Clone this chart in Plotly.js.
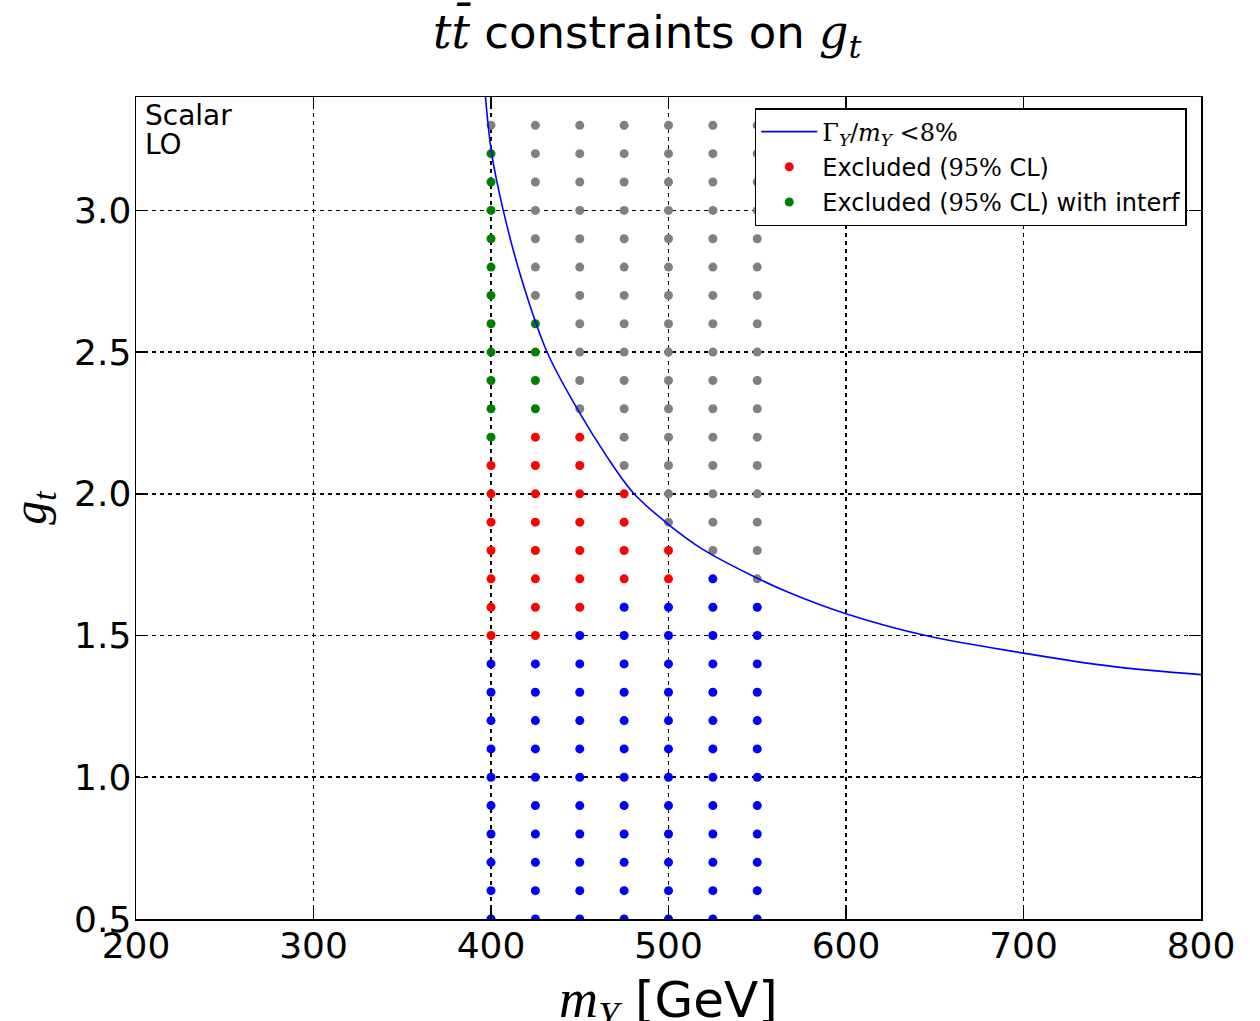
<!DOCTYPE html>
<html>
<head>
<meta charset="utf-8">
<script src="https://cdn.plot.ly/plotly-3.0.1.min.js"></script>
<style>html,body{margin:0;padding:0;background:#fff;}</style>
</head>
<body>
<div id="chart" style="width:1260px;height:1021px;"></div>
<script>
// ---- data ----
const masses = [400, 425, 450, 475, 500, 525, 550];
const couplings = [0.5, 0.6, 0.7, 0.8, 0.9, 1.0, 1.1, 1.2, 1.3, 1.4, 1.5, 1.6, 1.7, 1.8, 1.9,
                   2.0, 2.1, 2.2, 2.3, 2.4, 2.5, 2.6, 2.7, 2.8, 2.9, 3.0, 3.1, 3.2, 3.3];
// status per mass column, one letter per coupling (B allowed, R excluded, G excluded with interf, X width too large)
const status400 = "BBBBBBBBBBRRRRRRRGGGGGGGGGGGX";
const status425 = "BBBBBBBBBBRRRRRRRRGGGGXXXXXXX";
const status450 = "BBBBBBBBBBBRRRRRRRXXXXXXXXXXX";
const status475 = "BBBBBBBBBBBBRRRRXXXXXXXXXXXXX";
const status500 = "BBBBBBBBBBBBRRXXXXXXXXXXXXXXX";
const status525 = "BBBBBBBBBBBBBXXXXXXXXXXXXXXXX";
const status550 = "BBBBBBBBBBBBXXXXXXXXXXXXXXXXX";
const statusColumns = [status400, status425, status450, status475, status500, status525, status550];

// width curve Gamma_Y/m_Y = 8%
const widthMass = [396.9, 400.4, 406.9, 417.3, 431.4, 448.3, 465.2, 480.2, 499.0, 519.6, 547.8, 568.5, 600.4, 645.5, 700.0, 748.7, 800.0];
const widthCoupling = [3.40, 3.20, 3.00, 2.756, 2.503, 2.303, 2.132, 2.003, 1.897, 1.803, 1.709, 1.650, 1.576, 1.499, 1.438, 1.392, 1.362];

const xTicks = [200, 300, 400, 500, 600, 700, 800];
const yTicks = [0.5, 1.0, 1.5, 2.0, 2.5, 3.0];
const yTickText = ["0.5", "1.0", "1.5", "2.0", "2.5", "3.0"];

// ---- build point sets ----
function collect(code) {
  const xs = [], ys = [];
  statusColumns.forEach((col, i) => {
    for (let j = 0; j < col.length; j++) {
      if (col[j] === code) { xs.push(masses[i]); ys.push(couplings[j]); }
    }
  });
  return {x: xs, y: ys};
}
const gray = collect("X"), blue = collect("B"), red = collect("R"), green = collect("G");

const SANS = "DejaVu Sans";
const math = (s, fam, size) => '<span style="font-family:' + fam + (size ? ';font-size:' + size + 'px' : '') + '">' + s + '</span>';

const dotSize = 9;
const traces = [
  {x: gray.x, y: gray.y, type: "scatter", mode: "markers", marker: {color: "#808080", size: dotSize}, showlegend: false, hoverinfo: "skip"},
  {x: blue.x, y: blue.y, type: "scatter", mode: "markers", marker: {color: "#0000ff", size: dotSize}, showlegend: false, hoverinfo: "skip"},
  {x: red.x, y: red.y, type: "scatter", mode: "markers", marker: {color: "#ff0000", size: dotSize},
   name: "Excluded (" + math("95%", "DejaVu Serif") + " CL)", legendrank: 2, legendgroup: "r"},
  {x: green.x, y: green.y, type: "scatter", mode: "markers", marker: {color: "#008000", size: dotSize},
   name: "Excluded (" + math("95%", "DejaVu Serif") + " CL) with interf", legendrank: 3, legendgroup: "g"},
  {x: widthMass, y: widthCoupling, type: "scatter", mode: "lines", line: {color: "#0000ff", width: 1.6, shape: "spline"},
   name: math("Γ<sub><i>Y</i></sub>/<i>m</i><sub><i>Y</i></sub> &lt;8%", "DejaVu Serif"), legendrank: 1, legendgroup: "l"}
];

const axisCommon = {
  showline: true, linecolor: "black", linewidth: 1.5, mirror: "ticks",
  ticks: "inside", ticklen: 12, tickwidth: 1.5, tickcolor: "black",
  showgrid: true, gridcolor: "black", gridwidth: 1.6, griddash: "4px,4px",
  zeroline: false, tickfont: {family: SANS, size: 36, color: "black"},
  automargin: false
};

const layout = {
  width: 1260, height: 1021,
  margin: {l: 136, r: 59, t: 97, b: 102},
  paper_bgcolor: "white", plot_bgcolor: "white",
  font: {family: SANS, color: "black"},
  title: {
    text: math("<i>tt̄</i>", "DejaVu Serif", 46) + " constraints on " + math("<i>g</i><sub><i>t</i></sub>", "DejaVu Serif", 46),
    font: {family: SANS, size: 45, color: "black"},
    x: 0.48, xref: "paper", xanchor: "center",
    y: 0.968, yref: "container", yanchor: "middle"
  },
  xaxis: Object.assign({}, axisCommon, {
    range: [200, 800], tickvals: xTicks, ticktext: xTicks.map(String),
    ticklabelstandoff: -6
  }),
  yaxis: Object.assign({}, axisCommon, {
    range: [0.5, 3.4], tickvals: yTicks, ticktext: yTickText,
    ticklabelstandoff: -4,
    title: {text: math("<i>g</i><sub><i>t</i></sub>", "Liberation Serif"), font: {family: SANS, size: 48, color: "black"}, standoff: 12}
  }),
  legend: {
    x: 0.581, y: 0.9866, xanchor: "left", yanchor: "top",
    bgcolor: "white", bordercolor: "black", borderwidth: 1.5,
    font: {family: SANS, size: 24, color: "black"},
    traceorder: "grouped", tracegroupgap: 1, itemwidth: 56
  },
  annotations: [
    {text: "Scalar", xref: "paper", yref: "paper", x: 0.007, y: 1.0, xanchor: "left", yanchor: "top",
     showarrow: false, align: "left", font: {family: SANS, size: 28, color: "black"}},
    {text: "LO", xref: "paper", yref: "paper", x: 0.007, y: 0.965, xanchor: "left", yanchor: "top",
     showarrow: false, align: "left", font: {family: SANS, size: 28, color: "black"}},
    // x-axis title (partly cut by the page edge, as in the reference)
    {text: math("<i>m</i><sub><i>Y</i></sub>", "Liberation Serif", 54) + " [GeV]", xref: "paper", yref: "paper",
     x: 0.5, y: -0.058, xanchor: "center", yanchor: "top", showarrow: false,
     font: {family: SANS, size: 50, color: "black"}}
  ],
  showlegend: true
};

Plotly.newPlot("chart", traces, layout, {displayModeBar: false, staticPlot: true});
</script>
</body>
</html>
